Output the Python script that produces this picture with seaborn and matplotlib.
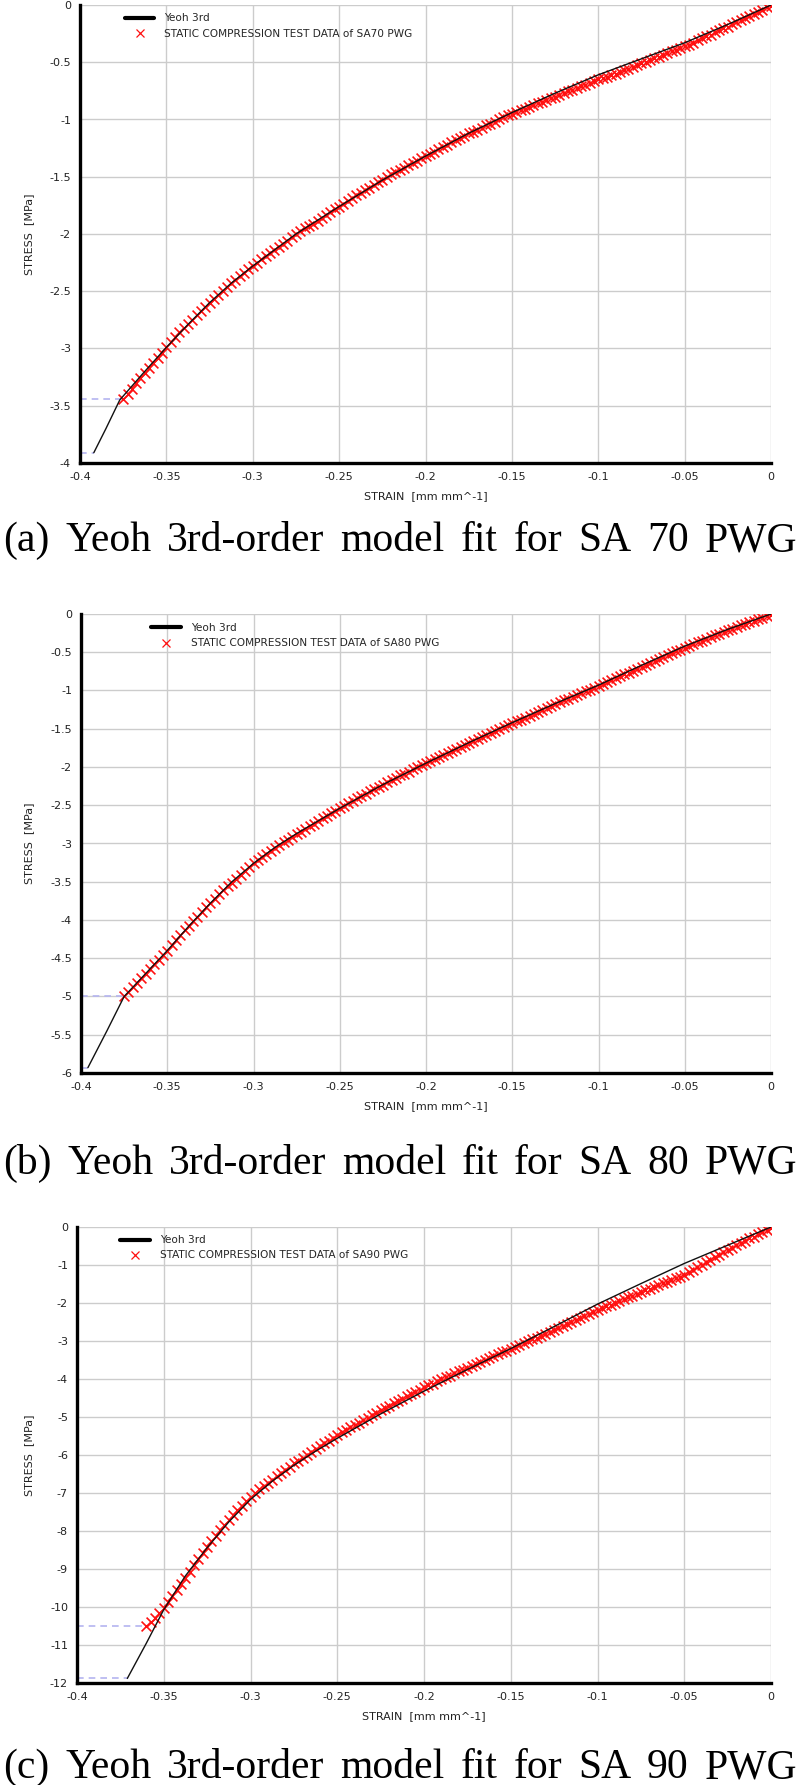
import matplotlib
matplotlib.use("Agg")
import matplotlib.pyplot as plt
import matplotlib.ticker as mticker
from matplotlib.lines import Line2D
import pandas as pd
import seaborn as sns

sns.set_style("whitegrid")
plt.rcParams["font.family"] = ["DejaVu Sans"]

W, H = 800, 1785

# strain grid of the compression test records (mm/mm)
TEST_STRAIN = [
    0.0, -0.0025, -0.005, -0.0075, -0.01, -0.0125, -0.015, -0.0175, -0.02, -0.0225,
    -0.025, -0.0275, -0.03, -0.0325, -0.035, -0.0375, -0.04, -0.0425, -0.045, -0.0475,
    -0.05, -0.0525, -0.055, -0.0575, -0.06, -0.0625, -0.065, -0.0675, -0.07, -0.0725,
    -0.075, -0.0775, -0.08, -0.0825, -0.085, -0.0875, -0.09, -0.0925, -0.095, -0.0975,
    -0.1, -0.1025, -0.105, -0.1075, -0.11, -0.1125, -0.115, -0.1175, -0.12, -0.1225,
    -0.125, -0.1275, -0.13, -0.1325, -0.135, -0.1375, -0.14, -0.1425, -0.145, -0.1475,
    -0.15, -0.1525, -0.155, -0.1575, -0.16, -0.1625, -0.165, -0.1675, -0.17, -0.1725,
    -0.175, -0.1775, -0.18, -0.1825, -0.185, -0.1875, -0.19, -0.1925, -0.195, -0.1975,
    -0.2, -0.2025, -0.205, -0.2075, -0.21, -0.2125, -0.215, -0.2175, -0.22, -0.2225,
    -0.225, -0.2275, -0.23, -0.2325, -0.235, -0.2375, -0.24, -0.2425, -0.245, -0.2475,
    -0.25, -0.2525, -0.255, -0.2575, -0.26, -0.2625, -0.265, -0.2675, -0.27, -0.2725,
    -0.275, -0.2775, -0.28, -0.2825, -0.285, -0.2875, -0.29, -0.2925, -0.295, -0.2975,
    -0.3, -0.3025, -0.305, -0.3075, -0.31, -0.3125, -0.315, -0.3175, -0.32, -0.3225,
    -0.325, -0.3275, -0.33, -0.3325, -0.335, -0.3375, -0.34, -0.3425, -0.345, -0.3475,
    -0.35, -0.3525, -0.355, -0.3575, -0.36, -0.3625, -0.365, -0.3675, -0.37, -0.3725,
    -0.375,
]

SA70_TEST_STRESS = [
    -0.01, -0.02, -0.04, -0.06, -0.08, -0.095, -0.11, -0.13, -0.15, -0.17,
    -0.19, -0.205, -0.22, -0.24, -0.26, -0.275, -0.29, -0.31, -0.33, -0.345,
    -0.36, -0.375, -0.39, -0.405, -0.42, -0.435, -0.45, -0.465, -0.48, -0.495,
    -0.51, -0.525, -0.54, -0.555, -0.57, -0.585, -0.60, -0.615, -0.63, -0.64,
    -0.65, -0.665, -0.68, -0.695, -0.71, -0.725, -0.74, -0.755, -0.77, -0.785,
    -0.80, -0.815, -0.83, -0.845, -0.86, -0.875, -0.89, -0.905, -0.92, -0.935,
    -0.95, -0.965, -0.98, -1.00, -1.02, -1.035, -1.05, -1.07, -1.09, -1.105,
    -1.12, -1.14, -1.16, -1.18, -1.20, -1.22, -1.24, -1.26, -1.28, -1.30,
    -1.32, -1.34, -1.36, -1.38, -1.40, -1.42, -1.44, -1.46, -1.48, -1.505,
    -1.53, -1.55, -1.57, -1.595, -1.62, -1.64, -1.66, -1.685, -1.71, -1.735,
    -1.76, -1.785, -1.81, -1.835, -1.86, -1.885, -1.91, -1.93, -1.95, -1.975,
    -2.00, -2.03, -2.06, -2.085, -2.11, -2.14, -2.17, -2.195, -2.22, -2.25,
    -2.28, -2.31, -2.34, -2.37, -2.40, -2.43, -2.46, -2.495, -2.53, -2.565,
    -2.60, -2.635, -2.67, -2.71, -2.75, -2.785, -2.82, -2.86, -2.90, -2.945,
    -2.99, -3.035, -3.08, -3.125, -3.17, -3.215, -3.26, -3.305, -3.35, -3.395,
    -3.44,
]

SA80_TEST_STRESS = [
    -0.01, -0.03, -0.05, -0.07, -0.09, -0.11, -0.13, -0.15, -0.17, -0.19,
    -0.21, -0.235, -0.26, -0.28, -0.30, -0.325, -0.35, -0.37, -0.39, -0.415,
    -0.44, -0.465, -0.49, -0.515, -0.54, -0.565, -0.59, -0.615, -0.64, -0.665,
    -0.69, -0.715, -0.74, -0.765, -0.79, -0.815, -0.84, -0.865, -0.89, -0.915,
    -0.94, -0.965, -0.99, -1.01, -1.03, -1.055, -1.08, -1.105, -1.13, -1.155,
    -1.18, -1.205, -1.23, -1.255, -1.28, -1.305, -1.33, -1.355, -1.38, -1.405,
    -1.43, -1.455, -1.48, -1.505, -1.53, -1.555, -1.58, -1.605, -1.63, -1.655,
    -1.68, -1.71, -1.74, -1.765, -1.79, -1.815, -1.84, -1.87, -1.90, -1.925,
    -1.95, -1.975, -2.00, -2.03, -2.06, -2.085, -2.11, -2.14, -2.17, -2.20,
    -2.23, -2.26, -2.29, -2.32, -2.35, -2.38, -2.41, -2.44, -2.47, -2.505,
    -2.54, -2.57, -2.60, -2.635, -2.67, -2.705, -2.74, -2.775, -2.81, -2.845,
    -2.88, -2.915, -2.95, -2.985, -3.02, -3.06, -3.10, -3.14, -3.18, -3.22,
    -3.26, -3.31, -3.36, -3.41, -3.46, -3.51, -3.56, -3.61, -3.665, -3.72,
    -3.775, -3.835, -3.895, -3.955, -4.015, -4.075, -4.135, -4.20, -4.265, -4.33,
    -4.40, -4.46, -4.52, -4.58, -4.64, -4.70, -4.76, -4.82, -4.88, -4.94,
    -5.00,
]

# SA90 record stops at -0.36
SA90_TEST_STRESS = [
    -0.02, -0.07, -0.13, -0.19, -0.25, -0.30, -0.36, -0.42, -0.48, -0.54,
    -0.60, -0.665, -0.73, -0.795, -0.86, -0.925, -0.99, -1.06, -1.13, -1.195,
    -1.26, -1.305, -1.35, -1.395, -1.44, -1.485, -1.53, -1.575, -1.62, -1.665,
    -1.71, -1.76, -1.81, -1.855, -1.90, -1.95, -2.00, -2.045, -2.09, -2.14,
    -2.19, -2.245, -2.30, -2.35, -2.40, -2.455, -2.51, -2.56, -2.61, -2.665,
    -2.72, -2.77, -2.82, -2.865, -2.91, -2.96, -3.01, -3.055, -3.10, -3.15,
    -3.20, -3.25, -3.30, -3.35, -3.40, -3.45, -3.50, -3.55, -3.60, -3.65,
    -3.70, -3.75, -3.80, -3.855, -3.91, -3.96, -4.01, -4.065, -4.12, -4.17,
    -4.22, -4.28, -4.34, -4.40, -4.46, -4.52, -4.58, -4.64, -4.70, -4.76,
    -4.82, -4.885, -4.95, -5.015, -5.08, -5.145, -5.21, -5.275, -5.34, -5.405,
    -5.47, -5.545, -5.62, -5.695, -5.77, -5.845, -5.92, -5.995, -6.07, -6.145,
    -6.22, -6.305, -6.39, -6.475, -6.56, -6.645, -6.73, -6.815, -6.90, -7.00,
    -7.10, -7.215, -7.33, -7.455, -7.58, -7.71, -7.84, -7.98, -8.12, -8.27,
    -8.42, -8.58, -8.74, -8.905, -9.07, -9.235, -9.40, -9.56, -9.72, -9.87,
    -10.02, -10.15, -10.28, -10.39, -10.50,
]

# Yeoh 3rd-order fitted curves
FIT70_STRAIN = [-0.392, -0.385, -0.377, -0.3625, -0.35, -0.3375, -0.325, -0.3125, -0.3,
                -0.275, -0.25, -0.225, -0.2, -0.175, -0.15, -0.125, -0.1, -0.075,
                -0.05, -0.025, 0.0]
FIT70_STRESS = [-3.91, -3.70, -3.45, -3.20, -2.99, -2.79, -2.60, -2.43, -2.28,
                -2.00, -1.76, -1.53, -1.32, -1.12, -0.94, -0.77, -0.61, -0.47,
                -0.33, -0.17, 0.0]

FIT80_STRAIN = [-0.396, -0.385, -0.375, -0.3625, -0.35, -0.3375, -0.325, -0.3125, -0.3,
                -0.2875, -0.275, -0.25, -0.225, -0.2, -0.175, -0.15, -0.125, -0.1,
                -0.075, -0.05, -0.025, 0.0]
FIT80_STRESS = [-5.93, -5.45, -5.00, -4.70, -4.40, -4.08, -3.78, -3.50, -3.26,
                -3.05, -2.87, -2.54, -2.23, -1.95, -1.68, -1.42, -1.17, -0.93,
                -0.67, -0.42, -0.20, 0.0]

FIT90_STRAIN = [-0.371, -0.36, -0.35, -0.3375, -0.325, -0.3125, -0.3, -0.2875,
                -0.275, -0.2625, -0.25, -0.225, -0.2, -0.175, -0.15, -0.125, -0.1,
                -0.075, -0.05, -0.025, 0.0]
FIT90_STRESS = [-11.88, -10.95, -10.07, -9.18, -8.44, -7.76, -7.17, -6.69,
                -6.27, -5.90, -5.56, -4.92, -4.32, -3.75, -3.20, -2.62, -2.03,
                -1.49, -0.96, -0.48, 0.0]

CAPTIONS = [
    "(a) Yeoh 3rd-order model fit for SA 70 PWG",
    "(b) Yeoh 3rd-order model fit for SA 80 PWG",
    "(c) Yeoh 3rd-order model fit for SA 90 PWG",
]
TEST_LABELS = [
    "STATIC COMPRESSION TEST DATA of SA70 PWG",
    "STATIC COMPRESSION TEST DATA of SA80 PWG",
    "STATIC COMPRESSION TEST DATA of SA90 PWG",
]


def fmt(v, pos):
    if abs(v) < 1e-9:
        return "0"
    return f"{v:g}"


def draw_panel(fig, box, fit_x, fit_y, test_x, test_y, ymin, ystep, label, leg_xy):
    left, top, right, bottom = box
    ax = fig.add_axes([left / W, 1 - bottom / H, (right - left) / W, (bottom - top) / H])

    test = pd.DataFrame({"strain": test_x, "stress": test_y})
    fit = pd.DataFrame({"strain": fit_x, "stress": fit_y})

    # guide lines to the end points
    ax.hlines(test["stress"].iloc[-1], -0.4, test["strain"].iloc[-1],
              colors="#b4b4f0", linestyles=(0, (4, 3)), lw=1.2, zorder=1)
    ax.hlines(fit["stress"].iloc[0], -0.4, fit["strain"].iloc[0],
              colors="#b4b4f0", linestyles=(0, (4, 3)), lw=1.2, zorder=1)

    sns.scatterplot(data=test, x="strain", y="stress", marker="x", color="#ff1010",
                    s=50, linewidth=1.2, ax=ax, zorder=2, legend=False)
    sns.lineplot(data=fit, x="strain", y="stress", sort=False, estimator=None,
                 color="#111111", lw=1.0, ax=ax, zorder=3, legend=False)

    ax.set_xlim(-0.4, 0)
    ax.set_ylim(ymin, 0)
    ax.xaxis.set_major_locator(mticker.MultipleLocator(0.05))
    ax.yaxis.set_major_locator(mticker.MultipleLocator(ystep))
    ax.xaxis.set_major_formatter(mticker.FuncFormatter(fmt))
    ax.yaxis.set_major_formatter(mticker.FuncFormatter(fmt))
    ax.grid(True, color="#cccccc", lw=1.0)
    for s in ["top", "right"]:
        ax.spines[s].set_visible(False)
    for s in ["left", "bottom"]:
        ax.spines[s].set_color("black")
        ax.spines[s].set_linewidth(2.4)
    ax.tick_params(labelsize=8, colors="#222222", length=2.5, width=1, pad=4)

    ax.set_xlabel("STRAIN  [mm mm^-1]", fontsize=8, color="#222222")
    ax.set_ylabel("STRESS  [MPa]", fontsize=8, color="#222222")
    ax.xaxis.set_label_coords(0.5, -28 / (bottom - top))
    ax.yaxis.set_label_coords(-(left - 34) / (right - left), 0.5)

    handles = [Line2D([], [], color="black", lw=3),
               Line2D([], [], color="#ff1010", marker="x", ls="none", ms=6, mew=0.9)]
    ax.legend(handles, ["Yeoh 3rd", label], loc="upper left",
              bbox_to_anchor=leg_xy, frameon=False, fontsize=7.6, borderpad=0,
              borderaxespad=0, handlelength=2.8, handletextpad=0.95, labelspacing=0.5)
    return ax


def justified_caption(fig, text, baseline_px, x0=3, x1=797):
    words = text.split()
    items = [fig.text(0, 1 - baseline_px / H, w, fontsize=30, family="Liberation Serif",
                      va="baseline", color="black") for w in words]
    fig.canvas.draw()
    renderer = fig.canvas.get_renderer()
    widths = [t.get_window_extent(renderer).width for t in items]
    gap = (x1 - x0 - sum(widths)) / (len(words) - 1)
    x = x0
    for t, w in zip(items, widths):
        t.set_x(x / W)
        x += w + gap


def main():
    fig = plt.figure(figsize=(W / 100, H / 100), dpi=100)

    panels = [
        ((80, 5, 771, 463), FIT70_STRAIN, FIT70_STRESS, TEST_STRAIN, SA70_TEST_STRESS,
         -4, 0.5, TEST_LABELS[0], (0.065, 0.982)),
        ((81, 614, 771, 1073), FIT80_STRAIN, FIT80_STRESS, TEST_STRAIN, SA80_TEST_STRESS,
         -6, 0.5, TEST_LABELS[1], (0.102, 0.98)),
        ((77, 1227, 771, 1683), FIT90_STRAIN, FIT90_STRESS,
         TEST_STRAIN[:len(SA90_TEST_STRESS)], SA90_TEST_STRESS,
         -12, 1, TEST_LABELS[2], (0.062, 0.982)),
    ]
    for p in panels:
        draw_panel(fig, *p)

    for cap, base in zip(CAPTIONS, [551, 1174, 1778]):
        justified_caption(fig, cap, base)

    fig.savefig("out.png", dpi=100)
    plt.close(fig)


if __name__ == "__main__":
    main()
